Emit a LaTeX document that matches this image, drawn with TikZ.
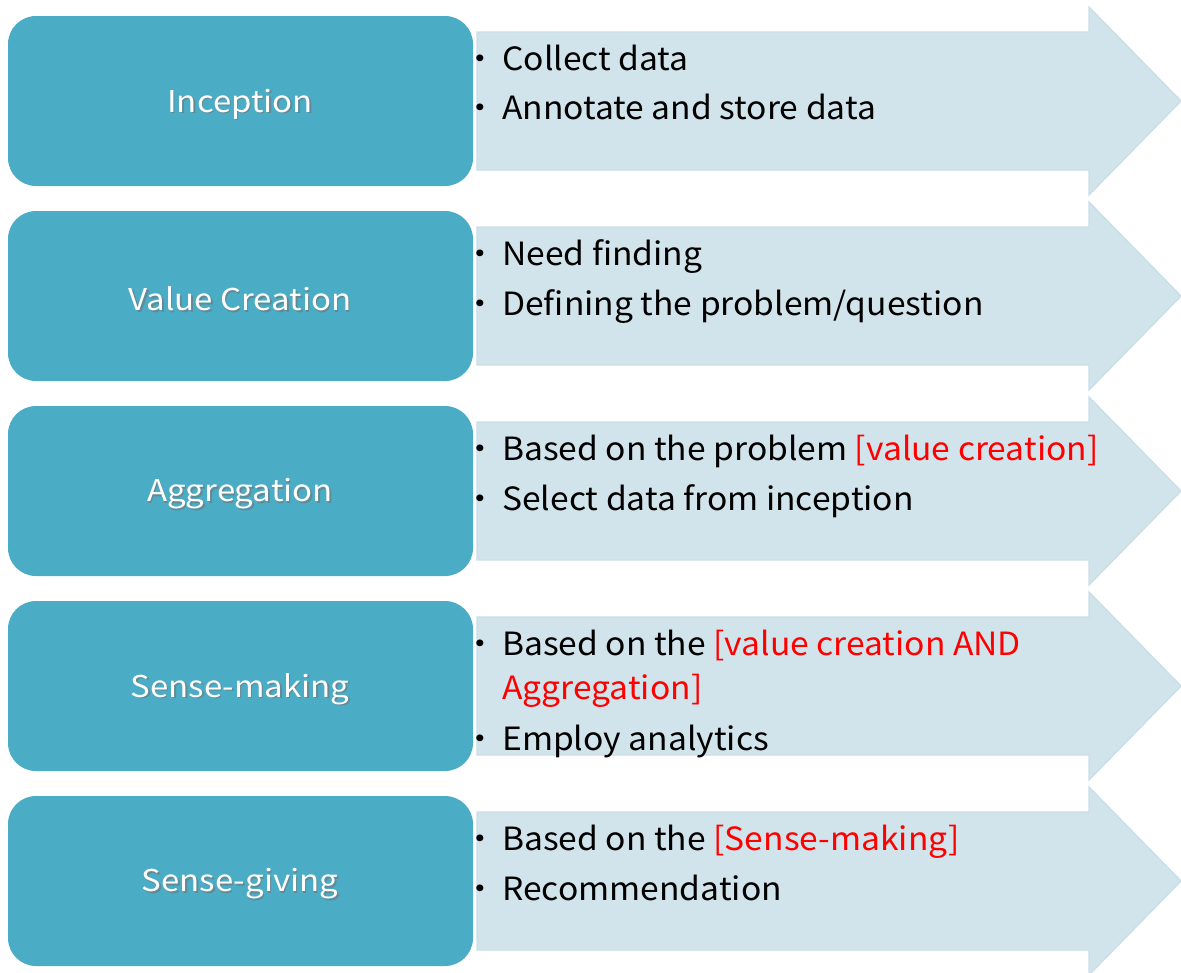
\documentclass[tikz,border=0pt]{standalone}
\usepackage{fontspec}
\setmainfont{Noto Sans CJK JP}
\newfontfamily\itemfont[FakeStretch=1.05]{Noto Sans CJK JP}
\newfontfamily\labfont[FakeStretch=1.1]{Noto Sans CJK JP}
\definecolor{boxc}{HTML}{4BACC6}
\definecolor{arrc}{HTML}{D2E4EB}
\definecolor{arre}{HTML}{C9DFE7}
\definecolor{redt}{HTML}{FF0000}
\newcommand\bul{\llap{・\hspace{0.15em}}}
\newcommand\rd[1]{\textcolor{redt}{#1}}
\tikzset{
  stage/.style={fill=boxc, draw=none, rounded corners=28*0.75pt},
  arrowshape/.style={fill=arrc, draw=arre, line width=1pt},
  lab/.style={text=white, font=\labfont\fontsize{22.5}{27}\selectfont, inner sep=0pt},
  labsh/.style={text=black!55, font=\labfont\fontsize{22.5}{27}\selectfont, inner sep=0pt, opacity=0.6},
  item/.style={anchor=base west, inner sep=0pt, text=black, font=\itemfont\fontsize{24}{29}\selectfont},
}
\begin{document}
\begin{tikzpicture}[x=0.75pt, y=-0.75pt]
\useasboundingbox (0,0) rectangle (1181,972);
\foreach \t/\name in {16/Inception, 211/Value Creation, 406/Aggregation, 601/Sense-making, 796/Sense-giving}{
  \fill[arrowshape] (477,\t+16) -- (1089,\t+16) -- (1089,\t-9) -- (1181,\t+85) -- (1089,\t+179) -- (1089,\t+154) -- (477,\t+154) -- cycle;
  \fill[stage] (8,\t) rectangle (473,\t+170);
  \node[labsh] at (241.5,\t+89.5) {\name};
  \node[lab] (L\t) at (240,\t+88) {\name};
}
% row 1
\node[item] (a1) at (502,70) {\bul Collect data};
\node[item] (a2) at (502,119) {\bul Annotate and store data};
% row 2
\node[item] (b1) at (502,265) {\bul Need finding};
\node[item] (b2) at (502,315) {\bul Defining the problem/question};
% row 3
\node[item] (c1) at (502,460) {\bul Based on the problem \rd{[value creation]}};
\node[item] (c2) at (502,510) {\bul Select data from inception};
% row 4
\node[item] (d1) at (502,655) {\bul Based on the \rd{[value creation AND}};
\node[item] (d2) at (502,699) {\rd{Aggregation]}};
\node[item] (d3) at (502,750) {\bul Employ analytics};
% row 5
\node[item] (e1) at (502,850) {\bul Based on the \rd{[Sense-making]}};
\node[item] (e2) at (502,900) {\bul Recommendation};
\end{tikzpicture}
\end{document}
